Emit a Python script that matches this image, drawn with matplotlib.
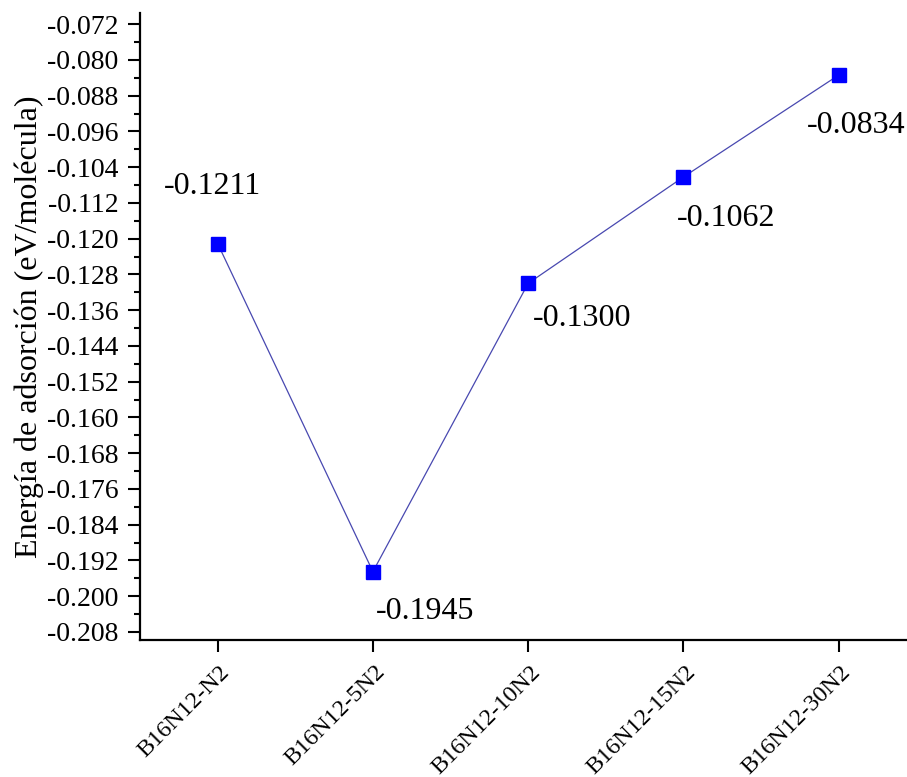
import matplotlib
matplotlib.use("Agg")
import matplotlib.pyplot as plt
from matplotlib.ticker import FixedLocator, FuncFormatter
import matplotlib.transforms as mtransforms

# Adsorption energy for each B16N12 + nN2 configuration
categories = ["B16N12-N2", "B16N12-5N2", "B16N12-10N2", "B16N12-15N2", "B16N12-30N2"]
energies = [-0.1211, -0.1945, -0.1300, -0.1062, -0.0834]
value_labels = ["-0.1211", "-0.1945", "-0.1300", "-0.1062", "-0.0834"]
# label offsets in pixels (dx, dy) relative to each point
label_offsets = [(-5, 57), (52, -40), (54, -35), (43, -42), (17, -50)]

plt.rcParams["font.family"] = ["Liberation Serif", "DejaVu Serif"]

fig = plt.figure(figsize=(9.07, 7.77), dpi=100)
ax = fig.add_axes([0.1544, 0.1763, 0.8456, 0.807])

x = list(range(len(categories)))
ax.plot(x, energies, color="#4848b0", lw=0.9, marker="s", markersize=10,
        markerfacecolor="#0000ff", markeredgecolor="#0000ff", zorder=3)

for xi, yi, lab, (dx, dy) in zip(x, energies, value_labels, label_offsets):
    ax.annotate(lab, (xi, yi), xytext=(dx, dy), textcoords="offset pixels",
                ha="center", va="center", fontsize=23, color="black")

ax.set_xlim(-0.5, 4.44)
ax.set_ylim(-0.2098, -0.0695)

ax.yaxis.set_major_locator(FixedLocator([-0.208 + 0.008 * i for i in range(18)]))
ax.yaxis.set_minor_locator(FixedLocator([-0.204 + 0.008 * i for i in range(17)]))
ax.yaxis.set_major_formatter(FuncFormatter(lambda v, p: f"{v:.3f}"))

# category ticks; the rotated names are placed as separate text objects
ax.set_xticks(x)
ax.set_xticklabels([])
name_tf = ax.get_xaxis_transform() + mtransforms.ScaledTranslation(
    9 / 100, -29 / 100, fig.dpi_scale_trans)
for xi, name in zip(x, categories):
    ax.text(xi, 0, name, transform=name_tf, rotation=45, rotation_mode="anchor",
            ha="right", va="center", fontsize=17.5, clip_on=False)

ax.tick_params(axis="y", which="major", direction="out", length=8.6, width=1.5,
               labelsize=20, pad=7)
ax.tick_params(axis="y", which="minor", direction="out", length=4.3, width=1.5)
ax.tick_params(axis="x", which="major", direction="out", length=8.6, width=1.5)

for side in ("top", "right"):
    ax.spines[side].set_visible(False)
for side in ("left", "bottom"):
    ax.spines[side].set_linewidth(1.6)

ax.set_ylabel("Energía de adsorción (eV/molécula)", fontsize=23, labelpad=2)

fig.savefig("out.png", dpi=100)
